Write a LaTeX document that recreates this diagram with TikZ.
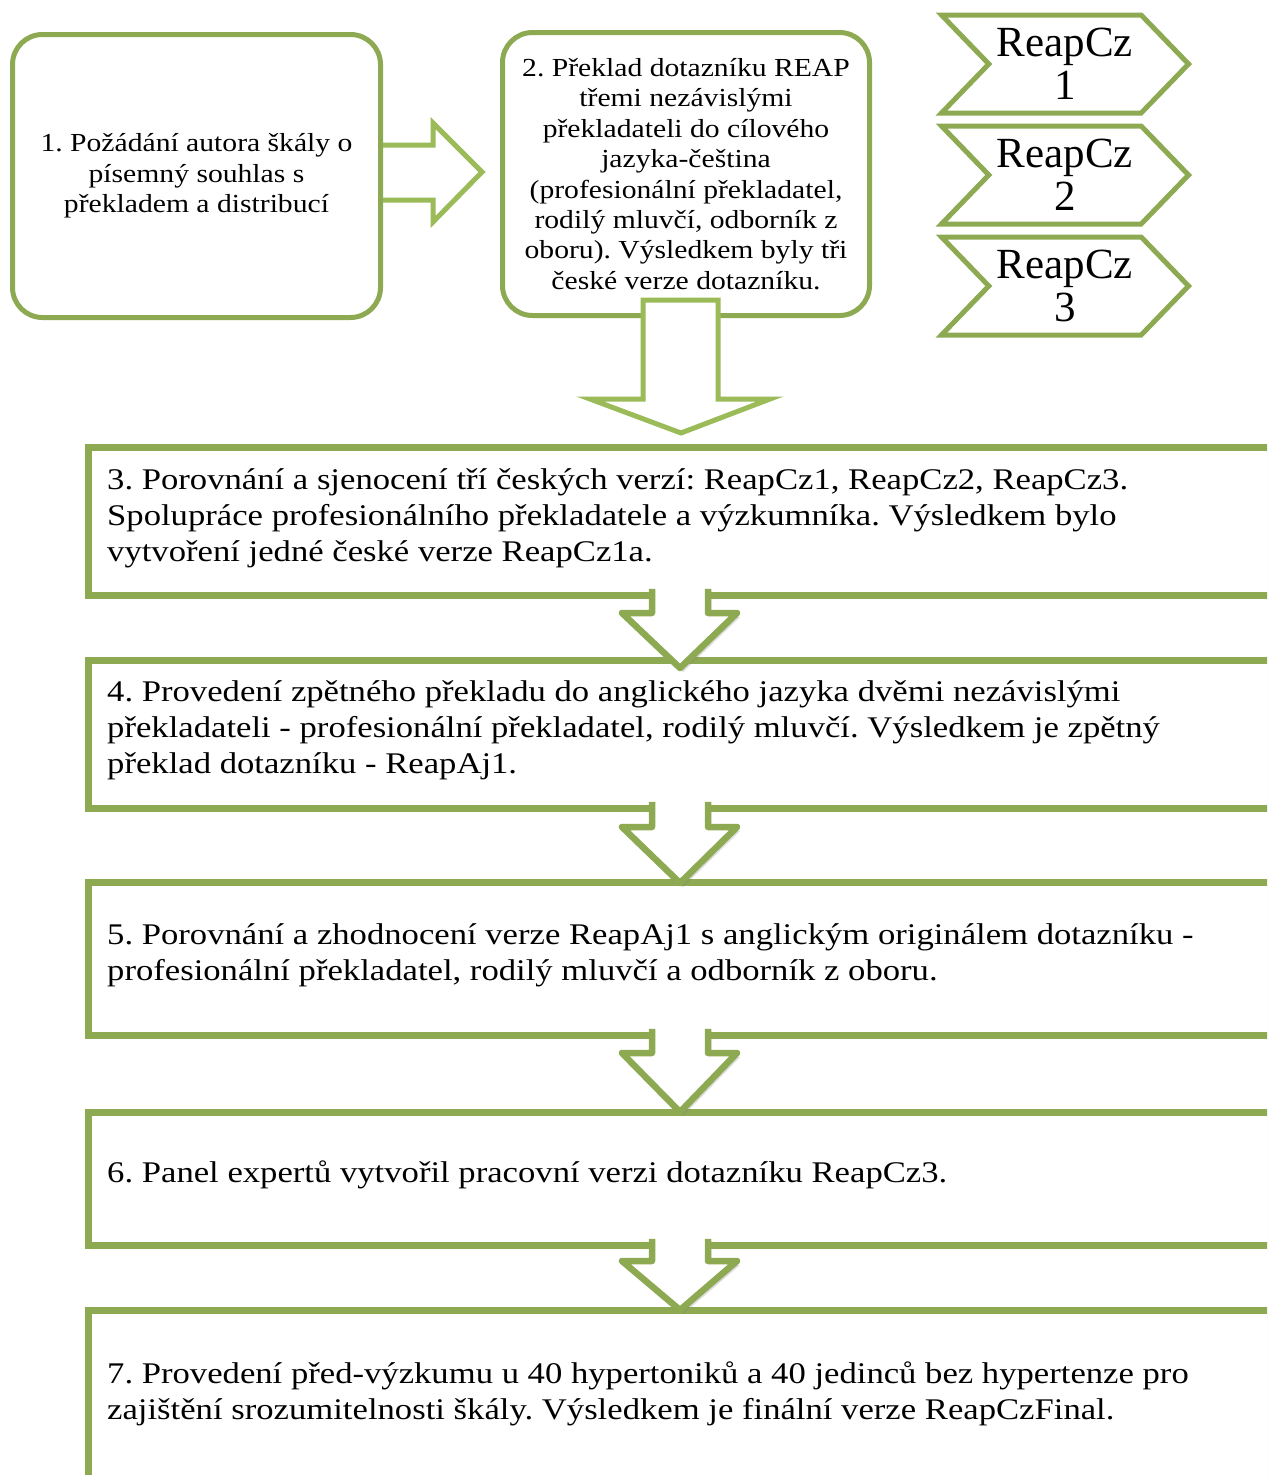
\documentclass[tikz,border=0pt]{standalone}
\usepackage{fontspec}
\setmainfont{Liberation Serif}[FakeStretch=1.14]
\newfontfamily\chevfont{Liberation Serif}
\newfontfamily\bigfont{Liberation Serif}[FakeStretch=1.155]
\usetikzlibrary{shadows,shapes.symbols}
\definecolor{gborder}{RGB}{141,170,82}
\definecolor{glight}{RGB}{155,187,89}
\frenchspacing
\begin{document}
\begin{tikzpicture}[x=1pt,y=-1pt,
  bigbox/.style={draw=gborder, line width=6.5pt, fill=white, anchor=north west,
    inner sep=0pt, drop shadow={shadow xshift=3pt, shadow yshift=-4pt, opacity=0.28}},
  roundbox/.style={draw=gborder, line width=5pt, fill=white, anchor=north west,
    rounded corners=30pt, inner sep=0pt, align=center,
    font=\fontsize{26}{30.4}\selectfont},
  bigtext/.style={anchor=west, align=left, inner sep=0pt,
    font=\bigfont\fontsize{30}{36}\selectfont},
  chev/.style={shape=signal, signal from=west, signal to=east, signal pointer angle=92,
    draw=gborder, line width=5pt, fill=white, minimum width=247pt, minimum height=98pt,
    inner sep=0pt, align=center, font=\chevfont\fontsize{43}{43}\selectfont},
  openarrow/.style={draw=glight, line width=5pt, line join=miter},
  downline/.style={draw=gborder, line width=6.5pt, line join=round},
  downfill/.style={fill=white, drop shadow={shadow xshift=3pt, shadow yshift=-4pt, opacity=0.28}}
]
\clip (0,0) rectangle (1267,1475);
\fill[white] (0,0) rectangle (1267,1475);

% top row
\node[roundbox, minimum width=368pt, minimum height=283pt] (b1) at (10,32)
  {1. Požádání autora škály o\\písemný souhlas s\\překladem a distribucí};
\node[roundbox, minimum width=367pt, minimum height=283pt] (b2) at (500,30)
  {2. Překlad dotazníku REAP\\třemi nezávislými\\překladateli do cílového\\jazyka-čeština\\(profesionální překladatel,\\rodilý mluvčí, odborník z\\oboru). Výsledkem byly tři\\české verze dotazníku.};

\node[chev] (c1) at (1065,64) {ReapCz\\1};
\node[chev] (c2) at (1065,175) {ReapCz\\2};
\node[chev] (c3) at (1065,286) {ReapCz\\3};

% arrow 1 -> 2
\draw[openarrow] (b1.east |- 0,145) -- (433,145) -- (433,123) -- (482,172)
  -- (433,222) -- (433,200) -- (b1.east |- 0,200);

% big boxes
\node[bigbox, minimum width=1220pt, minimum height=148pt] (b3) at (85,444) {};
\node[bigbox, minimum width=1220pt, minimum height=148pt] (b4) at (85,657) {};
\node[bigbox, minimum width=1220pt, minimum height=153pt] (b5) at (85,879) {};
\node[bigbox, minimum width=1220pt, minimum height=133pt] (b6) at (85,1109) {};
\node[bigbox, minimum width=1220pt, minimum height=174pt] (b7) at (85,1307) {};

\node[bigtext] (t3) at (107,518) {3. Porovnání a sjenocení tří českých verzí: ReapCz1, ReapCz2, ReapCz3.\\Spolupráce profesionálního překladatele a výzkumníka. Výsledkem bylo\\vytvoření jedné české verze ReapCz1a.};
\node[bigtext] (t4) at (107,730) {4. Provedení zpětného překladu do anglického jazyka dvěmi nezávislými\\překladateli - profesionální překladatel, rodilý mluvčí. Výsledkem je zpětný\\překlad dotazníku - ReapAj1.};
\node[bigtext] (t5) at (107,955) {5. Porovnání a zhodnocení verze ReapAj1 s anglickým originálem dotazníku -\\profesionální překladatel, rodilý mluvčí a odborník z oboru.};
\node[bigtext] (t6) at (107,1175) {6. Panel expertů vytvořil pracovní verzi dotazníku ReapCz3.};
\node[bigtext] (t7) at (107,1394) {7. Provedení před-výzkumu u 40 hypertoniků a 40 jedinců bez hypertenze pro\\zajištění srozumitelnosti škály. Výsledkem je finální verze ReapCzFinal.};

% arrow 2 -> 3
\draw[openarrow, fill=white] (643,300) -- (718,300) -- (718,399) -- (770,399)
  -- (681,433) -- (590,399) -- (643,399) -- cycle;

% big down arrows
\foreach \top/\base/\tip in {592/613/668, 805/827/883, 1032/1053/1112, 1242/1261/1310}{
  \path[downfill] (652,\top-5) -- (652,\base) -- (622,\base) -- (680,\tip)
    -- (737,\base) -- (708,\base) -- (708,\top-5) -- cycle;
  \draw[downline] (652,\top-3.25) -- (652,\base) -- (622,\base) -- (680,\tip)
    -- (737,\base) -- (708,\base) -- (708,\top-3.25);
}
\end{tikzpicture}
\end{document}
